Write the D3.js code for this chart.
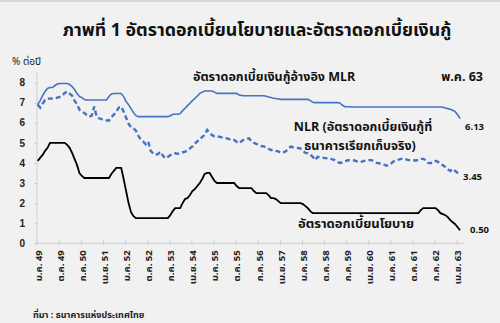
<!DOCTYPE html>
<html><head><meta charset="utf-8">
<script src="https://cdn.jsdelivr.net/npm/d3@7"></script>
<style>
html,body{margin:0;padding:0;background:#f1f1f1;}
svg{display:block;}
text{font-family:"Noto Sans Thai","Noto Sans Thai UI","Noto Sans","DejaVu Sans",sans-serif;}
</style></head>
<body><svg id="c" width="500" height="323"></svg>
<script>
// first data month: Jan 2006 (B.E. 2549), last: May 2020 (B.E. 2563)
const tickLabels = ["ม.ค. 49","ต.ค. 49","ก.ค. 50","เม.ย. 51","ม.ค. 52","ต.ค. 52","ก.ค. 53","เม.ย. 54","ม.ค. 55","ต.ค. 55","ก.ค. 56","เม.ย. 57","ม.ค. 58","ต.ค. 58","ก.ค. 59","เม.ย. 60","ม.ค. 61","ต.ค. 61","ก.ค. 62","เม.ย. 63"];
const tickMonthIndex = [0,9,18,27,36,45,54,63,72,81,90,99,108,117,126,135,144,153,162,171];
const yTicks = [0,1,2,3,4,5,6,7,8];

// MLR (monthly, % per year)
const mlr = [
 6.9,7.1,7.35,7.55,7.7,7.75,7.75,7.85,7.92,7.95,7.95,7.95,           // 2006
 7.95,7.9,7.8,7.65,7.45,7.3,7.25,7.15,7.13,7.13,7.13,7.13,           // 2007
 7.13,7.13,7.13,7.13,7.13,7.3,7.43,7.45,7.45,7.45,7.45,7.3,          // 2008
 7.05,6.9,6.7,6.5,6.35,6.3,6.3,6.3,6.3,6.3,6.3,6.3,                  // 2009
 6.3,6.3,6.3,6.3,6.3,6.3,6.35,6.42,6.42,6.42,6.45,6.6,               // 2010
 6.72,6.85,6.97,7.1,7.21,7.33,7.46,7.52,7.58,7.58,7.58,7.58,         // 2011
 7.52,7.46,7.46,7.46,7.46,7.46,7.46,7.46,7.46,7.46,7.38,7.36,        // 2012
 7.34,7.34,7.34,7.34,7.34,7.34,7.34,7.34,7.34,7.32,7.28,7.25,        // 2013
 7.22,7.2,7.18,7.16,7.16,7.16,7.16,7.16,7.16,7.16,7.16,7.16,         // 2014
 7.16,7.16,7.16,7.1,7.02,7.0,7.0,7.0,7.0,7.0,7.0,7.0,                // 2015
 7.0,7.0,7.0,6.98,6.88,6.8,6.79,6.79,6.78,6.78,6.78,6.78,            // 2016
 6.78,6.78,6.78,6.78,6.78,6.78,6.78,6.78,6.78,6.78,6.78,6.78,        // 2017
 6.78,6.78,6.78,6.78,6.78,6.78,6.78,6.78,6.78,6.78,6.78,6.78,        // 2018
 6.78,6.78,6.78,6.78,6.78,6.78,6.78,6.78,6.78,6.77,6.73,6.7,         // 2019
 6.67,6.62,6.55,6.4,6.2                                             // 2020
];
// NLR (monthly, % per year)
const nlr = [
 6.9,6.75,6.95,7.13,7.18,7.21,7.2,7.21,7.25,7.28,7.35,7.48,
 7.55,7.45,7.35,7.1,6.92,6.65,6.55,6.48,6.38,6.3,6.35,6.8,
 6.3,6.22,6.18,6.15,6.12,6.1,6.28,6.4,6.55,6.75,6.8,6.55,
 6.25,5.95,5.78,5.72,5.6,5.35,5.15,5.06,4.93,5.06,4.6,4.48,
 4.4,4.45,4.55,4.35,4.23,4.3,4.39,4.45,4.48,4.45,4.48,4.52,
 4.56,4.62,4.72,4.82,4.95,5.08,5.14,5.3,5.39,5.64,5.5,5.38,
 5.32,5.3,5.3,5.27,5.24,5.22,5.18,5.14,5.14,5.05,4.98,5.08,
 5.16,5.2,5.22,5.1,5.0,4.95,4.88,4.84,4.82,4.78,4.7,4.64,
 4.64,4.6,4.57,4.5,4.52,4.58,4.7,4.81,4.78,4.76,4.74,4.72,
 4.6,4.5,4.48,4.42,4.3,4.14,4.3,4.28,4.26,4.24,4.23,4.22,
 4.18,4.14,4.05,4.0,4.02,4.06,4.12,4.14,4.14,4.12,4.08,4.04,
 4.06,4.1,4.12,4.14,4.14,4.08,4.0,3.98,3.96,3.92,3.86,3.9,
 3.98,4.08,4.14,4.16,4.2,4.22,4.18,4.14,4.14,4.13,4.12,4.16,
 4.2,4.2,4.14,4.0,3.98,4.08,4.1,4.05,3.96,3.88,3.8,3.68,
 3.6,3.7,3.6,3.5,3.45
];
// Policy rate (monthly, % per year)
const policy = [
 4.1,4.25,4.4,4.6,4.75,5.0,5.0,5.0,5.0,5.0,5.0,5.0,
 4.9,4.75,4.5,4.2,3.9,3.5,3.35,3.25,3.25,3.25,3.25,3.25,
 3.25,3.25,3.25,3.25,3.25,3.25,3.45,3.6,3.75,3.75,3.75,3.2,
 2.6,2.0,1.55,1.35,1.25,1.25,1.25,1.25,1.25,1.25,1.25,1.25,
 1.25,1.25,1.25,1.25,1.25,1.25,1.4,1.6,1.75,1.75,1.75,2.0,
 2.2,2.25,2.4,2.6,2.7,2.85,3.0,3.2,3.45,3.5,3.5,3.3,
 3.1,3.0,3.0,3.0,3.0,3.0,3.0,3.0,3.0,2.85,2.75,2.75,
 2.75,2.75,2.75,2.75,2.6,2.5,2.5,2.5,2.5,2.5,2.4,2.25,
 2.25,2.2,2.1,2.0,2.0,2.0,2.0,2.0,2.0,2.0,2.0,2.0,
 1.95,1.85,1.75,1.6,1.5,1.5,1.5,1.5,1.5,1.5,1.5,1.5,
 1.5,1.5,1.5,1.5,1.5,1.5,1.5,1.5,1.5,1.5,1.5,1.5,
 1.5,1.5,1.5,1.5,1.5,1.5,1.5,1.5,1.5,1.5,1.5,1.5,
 1.5,1.5,1.5,1.5,1.5,1.5,1.5,1.5,1.5,1.5,1.5,1.5,
 1.65,1.75,1.75,1.75,1.75,1.75,1.75,1.65,1.5,1.45,1.4,1.3,
 1.15,1.05,0.95,0.8,0.65
];
const endLabels = ["6.13","3.45","0.50"];

const svg = d3.select("#c");
const W = 500, H = 323;
svg.append("rect").attr("width",W).attr("height",H).attr("fill","#f1f1f1");
svg.append("rect").attr("width",W).attr("height",2).attr("fill","#d6d6d6");

const x = d3.scaleLinear().domain([0, mlr.length-1]).range([37.7, 460.1]);
const y = d3.scaleLinear().domain([0, 8]).range([243.3, 82.5]);

// title
svg.append("text").attr("x",257).attr("y",36).attr("text-anchor","middle")
  .attr("font-size",17.8).attr("font-weight","bold").attr("fill","#111")
  .text("ภาพที่ 1 อัตราดอกเบี้ยนโยบายและอัตราดอกเบี้ยเงินกู้");
svg.append("text").attr("x",12).attr("y",65).attr("font-size",10).attr("fill","#222")
  .text("% ต่อปี");

// y axis
const yAxis = d3.axisLeft(y).tickValues(yTicks).tickSize(3).tickPadding(9).tickFormat(d3.format("d"));
const gy = svg.append("g").attr("transform","translate(37,0)").call(yAxis);
gy.select(".domain").attr("stroke","#d0d0d0").attr("d","M0,72V243.3");
gy.selectAll(".tick line").attr("stroke","#d0d0d0");
gy.selectAll(".tick text").attr("font-size",10).attr("font-weight","bold").attr("fill","#222")
  .style("font-family","Liberation Sans, Arial, sans-serif");

// x axis
const xAxis = d3.axisBottom(x).tickValues(tickMonthIndex).tickSize(3).tickPadding(3)
  .tickFormat((d,i)=>tickLabels[i]);
const gx = svg.append("g").attr("transform","translate(-1,243.3)").call(xAxis);
gx.select(".domain").attr("stroke","#d0d0d0").attr("d","M37,0H465");
gx.selectAll(".tick line").attr("stroke","#d0d0d0").attr("y1",-3).attr("y2",2);
gx.selectAll(".tick text").attr("font-size",9.5).attr("font-weight","bold").attr("fill","#222")
  .attr("text-anchor","end").attr("transform","rotate(-90)").attr("x",-7).attr("y",1).attr("dy","0.35em");

const line = d3.line().x((d,i)=>x(i)).y(d=>y(d));
svg.append("path").datum(mlr).attr("d",line).attr("fill","none").attr("stroke","#4472c4").attr("stroke-width",1.6);
svg.append("path").datum(nlr).attr("d",line).attr("fill","none").attr("stroke","#4472c4").attr("stroke-width",2.4)
  .attr("stroke-dasharray","5,3");
svg.append("path").datum(policy).attr("d",line).attr("fill","none").attr("stroke","#000").attr("stroke-width",1.8);

// annotations
const ann = (t,xx,yy,fs,anchor)=>svg.append("text").attr("x",xx).attr("y",yy).attr("font-size",fs)
  .attr("font-weight","bold").attr("fill","#111").attr("text-anchor",anchor||"start").text(t);
ann("อัตราดอกเบี้ยเงินกู้อ้างอิง MLR",193,81,12.5);
ann("พ.ค. 63",483,81,12.5,"end");
ann("NLR (อัตราดอกเบี้ยเงินกู้ที่",363,131,12.5,"middle");
ann("ธนาคารเรียกเก็บจริง)",360,150,12.5,"middle");
ann("อัตราดอกเบี้ยนโยบาย",356,228,13,"middle");
ann(endLabels[0],465,130,9.5);
ann(endLabels[1],463,180,9.5);
ann(endLabels[2],470,233,9.5);
svg.append("text").attr("x",33).attr("y",318).attr("font-size",9).attr("font-weight","bold").attr("fill","#222")
  .text("ที่มา : ธนาคารแห่งประเทศไทย");
</script></body></html>
